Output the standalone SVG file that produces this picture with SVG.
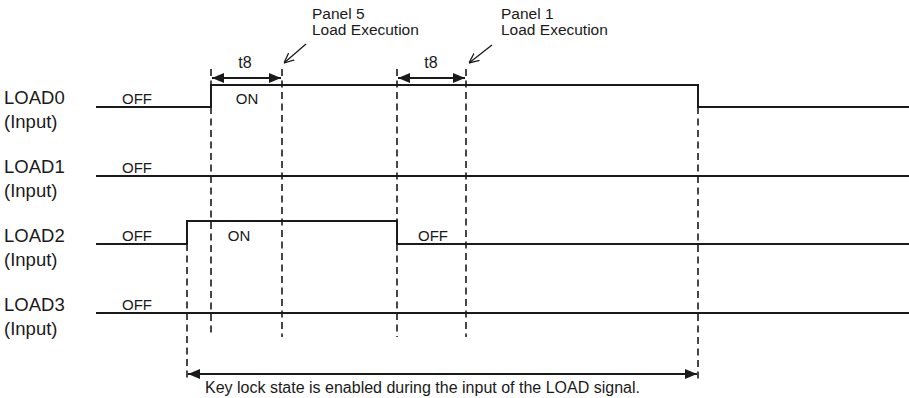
<svg xmlns="http://www.w3.org/2000/svg" width="909" height="398" viewBox="0 0 909 398">
<defs>
<marker id="ah" viewBox="0 0 12 10" refX="12" refY="5" markerWidth="12" markerHeight="10" markerUnits="userSpaceOnUse" orient="auto-start-reverse">
<path d="M0,0 L12,5 L0,10 Z" fill="#1a1a1a"/>
</marker>
<marker id="open" viewBox="0 0 10 10" refX="10" refY="5" markerWidth="10" markerHeight="10" markerUnits="userSpaceOnUse" orient="auto">
<path d="M0,0.5 L10,5 L0,9.5" fill="none" stroke="#1a1a1a" stroke-width="1.3"/>
</marker>
</defs>
<style>
text{font-family:"Liberation Sans",Arial,sans-serif;fill:#1a1a1a}
.lbl{font-size:18.5px}
.st{font-size:15px;text-anchor:middle}
.t8{font-size:16px;text-anchor:middle}
.note{font-size:15.5px}
.foot{font-size:16px}
.sig{fill:none;stroke:#1a1a1a;stroke-width:2}
.dash{fill:none;stroke:#1a1a1a;stroke-width:1.6;stroke-dasharray:7 4.5}
.dim{fill:none;stroke:#1a1a1a;stroke-width:2}
.ptr{fill:none;stroke:#1a1a1a;stroke-width:1.3}
</style>
<rect width="909" height="398" fill="#ffffff"/>
<g id="load0">
<text class="lbl" x="4" y="104">LOAD0</text>
<text class="lbl" x="4" y="128">(Input)</text>
<path class="sig" d="M96,107 H211 V85 H698 V107 H909"/>
<text class="st" x="137" y="104">OFF</text>
<text class="st" x="247" y="104">ON</text>
</g>
<g id="load1">
<text class="lbl" x="4" y="173">LOAD1</text>
<text class="lbl" x="4" y="197">(Input)</text>
<path class="sig" d="M96,176 H909"/>
<text class="st" x="137" y="172.5">OFF</text>
</g>
<g id="load2">
<text class="lbl" x="4" y="242">LOAD2</text>
<text class="lbl" x="4" y="266">(Input)</text>
<path class="sig" d="M96,244 H187 V221 H397 V244 H909"/>
<text class="st" x="137" y="240.5">OFF</text>
<text class="st" x="239" y="240.5">ON</text>
<text class="st" x="433" y="240.5">OFF</text>
</g>
<g id="load3">
<text class="lbl" x="4" y="311">LOAD3</text>
<text class="lbl" x="4" y="335">(Input)</text>
<path class="sig" d="M96,313 H909"/>
<text class="st" x="137" y="309.5">OFF</text>
</g>
<g id="connectors">
<path class="dash" d="M187,244 V382"/>
<path class="dash" d="M211,69 V85 M211,107 V337"/>
<path class="dash" d="M282,69 V337"/>
<path class="dash" d="M397,69 V221 M397,244 V337"/>
<path class="dash" d="M466,69 V337"/>
<path class="dash" d="M698,107 V382"/>
<path class="dim" d="M212,78 H281" marker-start="url(#ah)" marker-end="url(#ah)"/>
<path class="dim" d="M398,78 H465" marker-start="url(#ah)" marker-end="url(#ah)"/>
<path class="dim" d="M188,374 H697" marker-start="url(#ah)" marker-end="url(#ah)"/>
<path class="ptr" d="M306,44 L284,63" marker-end="url(#open)"/>
<path class="ptr" d="M492,45 L469,63" marker-end="url(#open)"/>
</g>
<g id="labels">
<text class="t8" x="245" y="68">t8</text>
<text class="t8" x="431" y="68">t8</text>
<text class="note" x="312" y="19">Panel 5</text>
<text class="note" x="312" y="35">Load Execution</text>
<text class="note" x="501" y="19">Panel 1</text>
<text class="note" x="501" y="35">Load Execution</text>
<text class="foot" x="205" y="393">Key lock state is enabled during the input of the LOAD signal.</text>
</g>
</svg>
